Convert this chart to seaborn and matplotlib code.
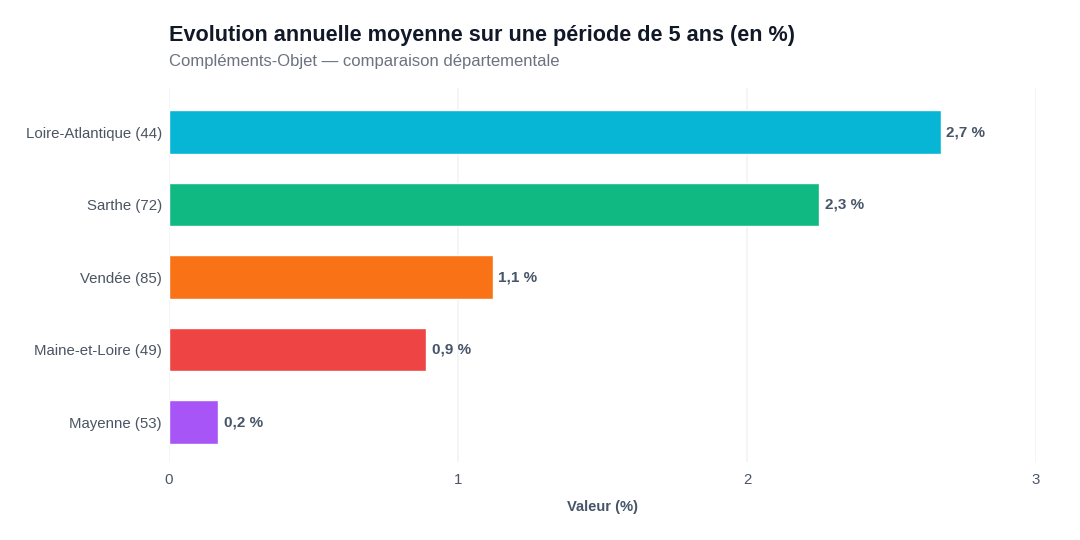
import pandas as pd
import numpy as np
import matplotlib.pyplot as plt
import seaborn as sns

# data
departements = ["Loire-Atlantique (44)", "Sarthe (72)", "Vendée (85)",
                "Maine-et-Loire (49)", "Mayenne (53)"]
valeurs = [2.67, 2.25, 1.12, 0.89, 0.17]
labels = ["2,7 %", "2,3 %", "1,1 %", "0,9 %", "0,2 %"]
couleurs = ["#06b6d4", "#10b981", "#f97316", "#ef4444", "#a855f7"]

df = pd.DataFrame({"departement": departements, "valeur": valeurs})

sns.set_style("white")
plt.rcParams['font.family'] = ['Liberation Sans', 'DejaVu Sans']

fig = plt.figure(figsize=(10.8, 5.4), dpi=100)
ax = fig.add_axes([0.1565, 0.1444, 0.8028, 0.6926])

sns.barplot(data=df, x="valeur", y="departement", hue="departement",
            palette=couleurs, width=0.6, legend=False, ax=ax, saturation=1)

for i, (v, lab) in enumerate(zip(valeurs, labels)):
    ax.text(v + 0.02, i, lab, va="center", ha="left", fontsize=11,
            fontweight="bold", color="#475569")

ax.set_xlim(0, 3)
ax.set_ylim(4.55, -0.61)
ax.set_xticks([0, 1, 2, 3])
ax.xaxis.grid(True, color="#f1f3f6", linewidth=1.2)
ax.set_axisbelow(True)
for s in ax.spines.values():
    s.set_visible(False)
ax.tick_params(axis="both", length=0, colors="#4b5563", labelsize=10.8)
ax.tick_params(axis="x", pad=8)
ax.tick_params(axis="y", pad=5)
ax.set_ylabel("")
ax.set_xlabel("Valeur (%)", fontsize=10.6, fontweight="bold", color="#475569", labelpad=9)

fig.text(0.1565, 0.935, "Evolution annuelle moyenne sur une période de 5 ans (en %)",
         fontsize=15.6, fontweight="bold", color="#111827", va="center")
fig.text(0.1565, 0.886, "Compléments-Objet — comparaison départementale",
         fontsize=12, color="#6b7280", va="center")

plt.savefig("out.png", dpi=100)
